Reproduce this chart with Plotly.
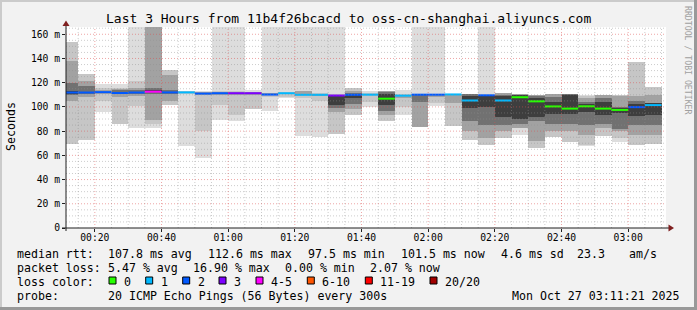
import plotly.graph_objects as go
import pandas as pd

DAY = "2025-10-27"

# ---------------- data ----------------
bar_end = ["00:15", "00:20", "00:25", "00:30", "00:35", "00:40", "00:45", "00:50", "00:55",
           "01:00", "01:05", "01:10", "01:15", "01:20", "01:25", "01:30", "01:35", "01:40",
           "01:45", "01:50", "01:55", "02:00", "02:05", "02:10", "02:15", "02:20", "02:25",
           "02:30", "02:35", "02:40", "02:45", "02:50", "02:55", "03:00", "03:05", "03:10"]

median_ms = [111.9, 111.9, 112.2, 111.5, 111.9, 112.6, 112.0, 112.0, 111.0, 111.3, 111.3, 111.3,
             110.2, 111.3, 110.0, 110.0, 109.4, 110.0, 110.1, 106.8, 109.3, 110.1, 110.1, 110.3,
             105.3, 109.6, 105.3, 108.0, 104.6, 100.4, 98.6, 100.5, 98.6, 97.5, 99.8, 101.5]

loss_count = [2, 2, 2, 2, 2, 4, 2, 1, 2, 2, 3, 3, 2, 1, 1, 1, 3, 2, 1, 0, 1, 2, 2, 1,
              1, 2, 1, 0, 0, 0, 0, 0, 0, 0, 2, 1]

N = None
# smoke layers (outer -> inner), lower / upper edge in ms
g1_lo = [N, N, 95.5, 86.2, 82.3, 82.3, N, 67.5, 57.8, 88.8, 88.3, 98.0, 97.0, 107.0, 75.7, 75.0, 77.5, N,
         99.7, N, 93.3, 83.3, 100.5, N, N, 68.8, N, 76.5, N, N, N, 68.0, N, 71.0, N, N]
g1_hi = [N, N, 118.7, 119.0, 170, 170, N, 113.5, 113.5, 170, 170, 113.7, 170, 170, 170, 170, 170, N,
         112.8, N, 114.2, 170, 170, N, N, 170, N, 110.5, N, N, N, 110.1, N, 110.1, N, N]

g2_lo = [69.7, 72.4, 104.6, 86.3, 100.5, 86.0, 101.9, 110.5, 80.4, 101.9, 93.0, 98.2, 108.0, 108.0, 107.0,
         104.6, 77.6, 93.3, 104.0, 88.1, 100.0, 83.3, 103.0, 84.0, 73.0, 68.9, 74.3, 82.6, 66.3, 75.0,
         70.8, 68.2, 76.3, 74.3, 68.8, 69.3]
g2_hi = [153.4, 127.3, 116.0, 116.0, 121.0, 170, 130.8, 113.0, 112.5, 113.0, 113.0, 112.5, 111.5, 112.3,
         113.0, 111.5, 110.5, 115.6, 111.3, 113.4, 111.0, 111.0, 111.0, 111.0, 110.7, 110.2, 111.5, 110.5,
         110.1, 110.7, 110.7, 109.0, 109.6, 110.1, 136.9, 116.8]

g3_lo = [104.6, 108.3, 110.5, 108.6, 109.0, 89.5, 105.2, N, 109.5, 110.0, 110.0, 110.0, 109.5, N, 109.5,
         109.0, 95.5, 98.3, N, 93.6, 107.0, 83.5, 108.0, 103.3, 79.8, 74.3, 79.8, 82.6, 72.0, 79.8,
         79.8, 77.1, 82.6, 79.8, 77.1, 77.1]
g3_hi = [137.7, 121.2, 114.0, 115.0, 115.7, 170, 126.7, N, 112.0, 112.3, 112.0, 112.0, 111.3, N, 112.8,
         111.0, 110.0, 113.0, N, 113.0, 110.0, 110.8, 110.8, 110.8, 110.7, 110.0, 111.5, 110.3, 110.1,
         110.7, 110.7, 107.0, 109.6, 109.0, 108.8, 110.1]

g4_lo = [110.0, 111.0, N, 110.5, 110.5, 111.0, 110.5, N, N, N, N, N, N, N, N, N, 99.0, 102.0, N, 97.0,
         N, 104.0, N, N, 88.1, 85.4, 85.4, 86.0, 88.1, 86.0, 86.0, 85.4, 86.0, 82.0, 85.4, 85.4]
g4_hi = [120.0, 117.0, N, 114.0, 114.0, 116.0, 114.0, N, N, N, N, N, N, N, N, N, 109.5, 111.5, N, 112.5,
         N, 110.5, N, N, 110.5, 110.0, 110.0, 110.0, 109.0, 108.0, 110.7, 104.0, 107.0, 100.0, 104.6, 103.3]

g5_lo = [111.0, N, N, N, N, 112.0, N, N, N, N, N, N, N, N, N, N, 101.9, 107.0, N, 101.5, N, N, N, N,
         99.0, 100.0, 92.0, 90.0, 92.0, 94.0, 94.0, 95.8, 93.6, 95.0, 92.2, 93.6]
g5_hi = [113.0, N, N, N, N, 114.0, N, N, N, N, N, N, N, N, N, N, 109.0, 110.5, N, 111.0, N, N, N, N,
         109.0, 109.6, 108.8, 109.5, 107.0, 104.0, 110.0, 102.0, 104.0, 99.0, 102.0, 103.3]

loss_labels = ["0", "1", "2", "3", "4-5", "6-10", "11-19", "20/20"]
loss_upper = [0, 1, 2, 3, 5, 10, 19, 20]
loss_colors = ["#26ff00", "#00b8ff", "#0059ff", "#7e00ff", "#ff00ff", "#ff5500", "#ff0000", "#a10000"]

x_tick_labels = ["00:20", "00:40", "01:00", "01:20", "01:40", "02:00", "02:20", "02:40", "03:00"]
y_tick_vals = [0, 20, 40, 60, 80, 100, 120, 140, 160]
y_tick_text = ["0", "20 m", "40 m", "60 m", "80 m", "100 m", "120 m", "140 m", "160 m"]

title_text = "Last 3 Hours from 11b4f26bcacd to oss-cn-shanghai.aliyuncs.com"
rtt_stats = ["107.8 ms avg", "112.6 ms max", "97.5 ms min", "101.5 ms now", "4.6 ms sd", "23.3", "am/s"]
loss_stats = ["5.47 % avg", "16.90 % max", "0.00 % min", "2.07 % now"]
probe_text = "20 ICMP Echo Pings (56 Bytes) every 300s"
stamp_text = "Mon Oct 27 03:11:21 2025"

# ---------------- geometry / style ----------------
W, H = 697, 310
ML, MR, MT, MB = 66, 31, 27, 82
PW, PH = W - ML - MR, H - MT - MB
MONO = "DejaVu Sans Mono"
layer_colors = ["#dddddd", "#c6c6c6", "#a2a2a2", "#717171", "#3e3e3e"]


def px(x):
    return (x - ML) / PW


def py(y):
    return (H - MB - y) / PH


t_end = pd.to_datetime([f"{DAY} {t}" for t in bar_end])
step = pd.Timedelta(minutes=5)
t_mid = t_end - step / 2

fig = go.Figure()

layers = [(g1_lo, g1_hi), (g2_lo, g2_hi), (g3_lo, g3_hi), (g4_lo, g4_hi), (g5_lo, g5_hi)]
for (lo, hi), col in zip(layers, layer_colors):
    xs, bases, hs = [], [], []
    for t, a, b in zip(t_mid, lo, hi):
        if a is None or b is None:
            continue
        xs.append(t)
        bases.append(a)
        hs.append(b - a)
    fig.add_trace(go.Bar(x=xs, y=hs, base=bases, width=300000,
                         marker=dict(color=col, line=dict(width=0)), opacity=1,
                         hoverinfo="skip", showlegend=False))


def bucket(n):
    for i, u in enumerate(loss_upper):
        if n <= u:
            return i
    return len(loss_upper) - 1


for bi in range(len(loss_labels)):
    xs, ys = [], []
    for te, m, n in zip(t_end, median_ms, loss_count):
        if bucket(n) != bi:
            continue
        xs += [te - step, te, None]
        ys += [m, m, None]
    if xs:
        fig.add_trace(go.Scatter(x=xs, y=ys, mode="lines",
                                 line=dict(color=loss_colors[bi], width=2),
                                 hoverinfo="skip", showlegend=False))

shapes = []
GRID = "rgba(143,143,143,0.45)"
MGRID = "rgba(222,80,80,0.5)"
DASH = "1px,2px"
for t in bar_end:
    if t in x_tick_labels:
        continue
    shapes.append(dict(type="line", xref="x", yref="paper", x0=f"{DAY} {t}", x1=f"{DAY} {t}",
                       y0=0, y1=1, line=dict(color=GRID, width=1, dash=DASH), layer="above"))
for v in range(5, 166, 5):
    if v % 20 == 0:
        continue
    shapes.append(dict(type="line", xref="paper", yref="y", x0=0, x1=1, y0=v, y1=v,
                       line=dict(color=GRID, width=1, dash=DASH), layer="above"))
for t in x_tick_labels:
    shapes.append(dict(type="line", xref="x", yref="paper", x0=f"{DAY} {t}", x1=f"{DAY} {t}",
                       y0=0, y1=1, line=dict(color=MGRID, width=1, dash=DASH), layer="above"))
for v in y_tick_vals[1:]:
    shapes.append(dict(type="line", xref="paper", yref="y", x0=0, x1=1, y0=v, y1=v,
                       line=dict(color=MGRID, width=1, dash=DASH), layer="above"))

AXIS = "#1f1f1f"
ARROW = "#7f1f1f"
shapes.append(dict(type="line", xref="paper", yref="paper", x0=0, x1=0, y0=py(231), y1=py(24),
                   line=dict(color=AXIS, width=1), layer="above"))
shapes.append(dict(type="line", xref="paper", yref="paper", x0=px(62), x1=px(670), y0=0, y1=0,
                   line=dict(color=AXIS, width=1), layer="above"))
shapes.append(dict(type="path", xref="paper", yref="paper",
                   path=f"M {px(62.5)} {py(26)} L {px(69.5)} {py(26)} L {px(66)} {py(20.5)} Z",
                   fillcolor=ARROW, line=dict(width=0), layer="above"))
shapes.append(dict(type="path", xref="paper", yref="paper",
                   path=f"M {px(668.5)} {py(224.5)} L {px(668.5)} {py(231.5)} L {px(674)} {py(228)} Z",
                   fillcolor=ARROW, line=dict(width=0), layer="above"))

# frame shading
shapes.append(dict(type="rect", xref="paper", yref="paper", x0=px(0), x1=px(W), y0=py(0), y1=py(2),
                   fillcolor="#cbcbcb", line=dict(width=0), layer="above"))
shapes.append(dict(type="rect", xref="paper", yref="paper", x0=px(0), x1=px(2), y0=py(0), y1=py(H),
                   fillcolor="#cbcbcb", line=dict(width=0), layer="above"))
shapes.append(dict(type="rect", xref="paper", yref="paper", x0=px(W - 3), x1=px(W), y0=py(0), y1=py(H),
                   fillcolor="#999999", line=dict(width=0), layer="above"))
shapes.append(dict(type="rect", xref="paper", yref="paper", x0=px(0), x1=px(W), y0=py(H - 3), y1=py(H),
                   fillcolor="#999999", line=dict(width=0), layer="above"))

# legend colour boxes
box_left = [109, 145.7, 182.7, 219, 256, 307.3, 365.3, 430]
for bx, col in zip(box_left, loss_colors):
    shapes.append(dict(type="rect", xref="paper", yref="paper", x0=px(bx), x1=px(bx + 7),
                       y0=py(284), y1=py(277), fillcolor=col, line=dict(color="#000000", width=1),
                       layer="above"))

ann = []
leg_font = dict(family=MONO, size=11.6, color="#000000")


def text_at(s, x, y, anchor="left", font=leg_font, angle=0):
    ann.append(dict(text=s, x=px(x), y=py(y), xref="paper", yref="paper", showarrow=False,
                    xanchor=anchor, yanchor="middle", font=font, textangle=angle, borderpad=0))


text_at(title_text, 348.5, 19, "center", dict(family=MONO, size=13, color="#000000"))
text_at("Seconds", 11, 127, "center", leg_font, -90)
text_at("RRDTOOL / TOBI OETIKER", 688, 60, "center", dict(family=MONO, size=8.2, color="#a0a0a0"), 90)

text_at("median rtt:", 16, 254)
for s, x in zip(rtt_stats, [107.3, 206.7, 307.3, 399.7, 499.7, 576, 628.3]):
    text_at(s, x, 254)
text_at("packet loss:", 16, 268)
for s, x in zip(loss_stats, [107.3, 191.7, 284.1, 368.5]):
    text_at(s, x, 268)
text_at("loss color:", 16, 282)
for bx, lab in zip(box_left, loss_labels):
    text_at(lab, bx + 14, 282)
text_at("probe:", 16, 296)
text_at(probe_text, 107.3, 296)
text_at(stamp_text, 680.5, 296, "right")

tick_font = dict(family=MONO, size=9.7, color="#000000")
fig.update_layout(
    width=W, height=H, margin=dict(l=ML, r=MR, t=MT, b=MB, pad=0),
    paper_bgcolor="#f2f2f2", plot_bgcolor="#ffffff",
    barmode="overlay", bargap=0, showlegend=False,
    shapes=shapes, annotations=ann,
    xaxis=dict(type="date", range=[f"{DAY} 00:11:21", f"{DAY} 03:11:21"],
               tickvals=[f"{DAY} {t}" for t in x_tick_labels], ticktext=x_tick_labels,
               showgrid=False, zeroline=False, showline=False, ticks="outside", ticklen=3,
               tickcolor=AXIS, tickfont=tick_font, fixedrange=True, ticklabelstandoff=-3),
    yaxis=dict(range=[0, 166], tickvals=y_tick_vals, ticktext=y_tick_text,
               showgrid=False, zeroline=False, showline=False, ticks="outside", ticklen=3,
               tickcolor=AXIS, tickfont=tick_font, fixedrange=True),
)

fig.write_html("out.html", config={"displayModeBar": False})
